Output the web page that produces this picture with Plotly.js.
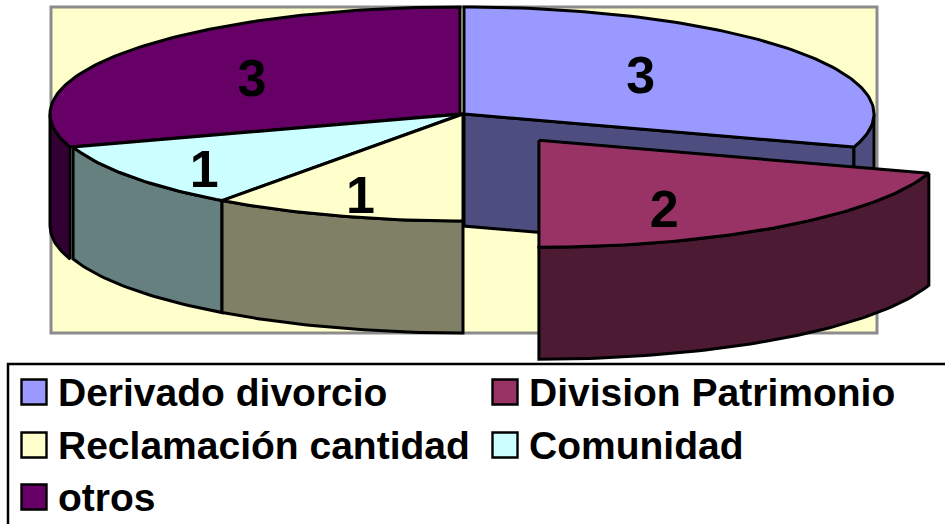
<!DOCTYPE html>
<html><head><meta charset="utf-8">
<script src="https://cdn.plot.ly/plotly-3.0.1.min.js"></script>
<style>html,body{margin:0;padding:0;background:#fff}#c{width:945px;height:524px}</style>
</head><body><div id="c"></div>
<script>
const categories = ["Derivado divorcio","Division Patrimonio","Reclamación cantidad","Comunidad","otros"];
const values = [3,2,1,1,3];
const topColors = ["#9999FF","#993366","#FFFFCC","#CCFFFF","#660066"];
const wallColors = ["#4D4D80","#4D1A33","#808066","#668080","#330033"];
const explode = [0,0.315,0,0,0];

// pie geometry (pixels of the page, used as axis units)
const CX=463, CY=114, RX=410, RY=107, DEPTH=112;
const nudgeX=[1,0,0,0,-3], nudgeY=[0,-1,0,0,0];
const labelKx=[0.533,0.52,0.81,0.78,0.627], labelKy=[0.62,0.8,0.80,0.89,0.57];
const LINE={color:"#000",width:3};

const total=values.reduce((a,b)=>a+b,0);
let acc=0;
const slices=values.map((v,i)=>{
  const a0=acc/total*360; acc+=v; const a1=acc/total*360;
  const mid=(a0+a1)/2*Math.PI/180;
  return {i,a0,a1,mid,
    cx:CX+nudgeX[i]+RX*explode[i]*Math.sin(mid),
    cy:CY+nudgeY[i]-RY*explode[i]*Math.cos(mid)};
});
const pt=(s,deg,dz=0)=>{const r=deg*Math.PI/180;return [s.cx+RX*Math.sin(r), s.cy-RY*Math.cos(r)+dz];};
const arc=(s,a,b,dz=0)=>{const o=[];const n=Math.max(2,Math.ceil(Math.abs(b-a)));for(let k=0;k<=n;k++)o.push(pt(s,a+(b-a)*k/n,dz));return o;};
const poly=(pts,fill,name)=>({type:"scatter",mode:"lines",x:pts.map(p=>p[0]),y:pts.map(p=>p[1]),
  fill:"toself",fillcolor:fill,line:LINE,hoverinfo:"skip",showlegend:false,name});
const close=p=>p.concat([p[0]]);

const topFace=s=>close([[s.cx,s.cy]].concat(arc(s,s.a0,s.a1)));
const rim=s=>{const a=Math.max(s.a0,90),b=Math.min(s.a1,270);if(a>=b)return null;
  return close(arc(s,a,b).concat(arc(s,b,a,DEPTH)));};
const endWall=(s,deg)=>{const p=pt(s,deg);return close([[s.cx,s.cy],p,[p[0],p[1]+DEPTH],[s.cx,s.cy+DEPTH]]);};

const traces=[];
const addSlice=(i,walls)=>{const s=slices[i];
  (walls||[]).forEach(d=>traces.push(poly(endWall(s,d),wallColors[i],categories[i])));
  const r=rim(s); if(r)traces.push(poly(r,wallColors[i],categories[i]));
  traces.push(poly(topFace(s),topColors[i],categories[i]));
};
addSlice(0,[slices[0].a1]);
addSlice(4);
addSlice(3);
addSlice(2);
addSlice(1);

// data labels
traces.push({type:"scatter",mode:"text",hoverinfo:"skip",showlegend:false,
  x:slices.map(s=>s.cx+RX*labelKx[s.i]*Math.sin(s.mid)),
  y:slices.map(s=>s.cy+4.5-RY*labelKy[s.i]*Math.cos(s.mid)),
  text:values.map(String),textposition:"middle center",
  textfont:{family:"Liberation Sans",size:52,color:"#000",weight:700}});

// legend
const legX=[34,505,34,505,34], legY=[392,392,445,445,497], legTextGap=24, legTextDrop=4;
traces.push({type:"scatter",mode:"markers",hoverinfo:"skip",showlegend:false,x:legX,y:legY,
  marker:{symbol:"square",size:25,color:topColors,line:{color:"#000",width:2.4}}});
traces.push({type:"scatter",mode:"text",hoverinfo:"skip",showlegend:false,
  x:legX.map(v=>v+legTextGap),y:legY.map(v=>v+legTextDrop),text:categories,textposition:"middle right",
  textfont:{family:"Liberation Sans",size:39,color:"#000",weight:700}});

const layout={width:945,height:524,margin:{l:0,r:0,t:0,b:0},paper_bgcolor:"#fff",plot_bgcolor:"#fff",showlegend:false,
  xaxis:{range:[0,945],visible:false,fixedrange:true},
  yaxis:{range:[524,0],visible:false,fixedrange:true},
  shapes:[
   {type:"rect",layer:"below",xref:"x",yref:"y",x0:51,x1:877,y0:7,y1:333,fillcolor:"#FFFFCC",line:{color:"#8c8c8c",width:3}},
   {type:"path",layer:"below",xref:"x",yref:"y",path:"M 950 364 L 8 364 L 8 530",line:{color:"#000",width:2.5}}
  ]};
Plotly.newPlot("c",traces,layout,{displayModeBar:false,staticPlot:true});
</script></body></html>
